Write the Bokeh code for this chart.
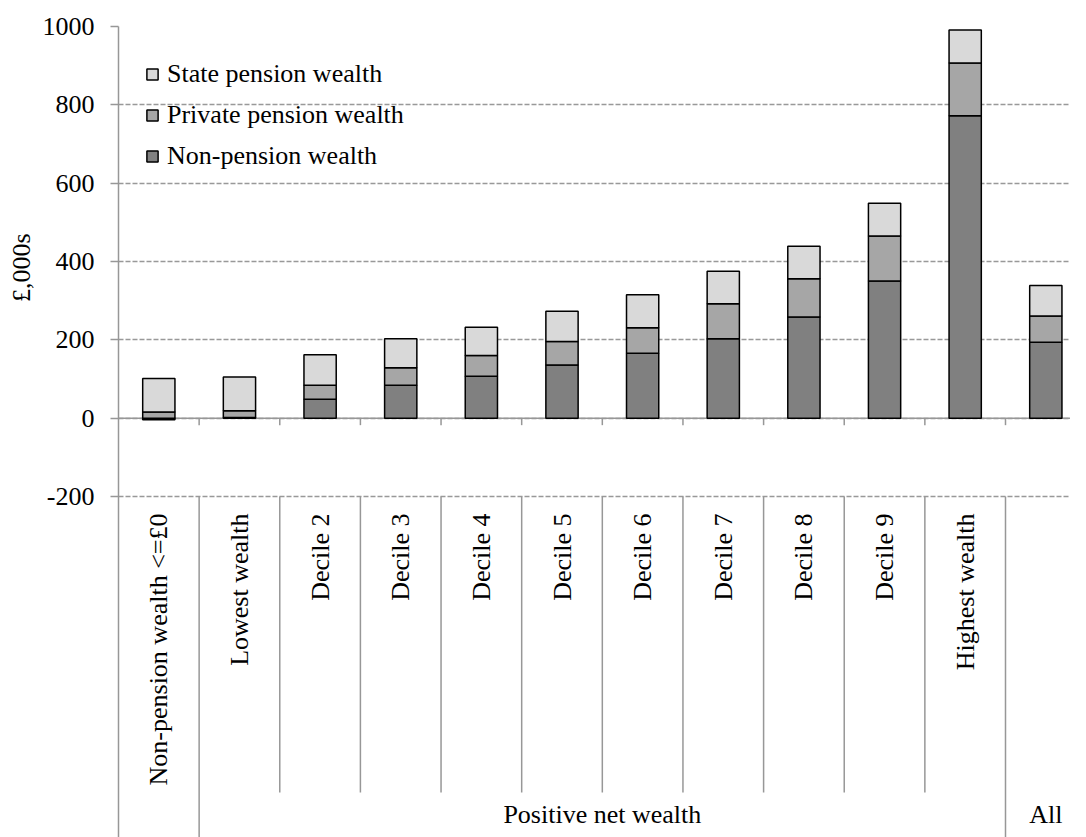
import numpy as np
from bokeh.plotting import figure
from bokeh.models import Range1d, FixedTicker, Legend, LegendItem, Title
from bokeh.core.properties import value
from bokeh.embed import file_html
from bokeh.resources import INLINE

# ---------------- data ----------------
categories = ["Non-pension wealth <=£0", "Lowest wealth", "Decile 2", "Decile 3",
              "Decile 4", "Decile 5", "Decile 6", "Decile 7", "Decile 8",
              "Decile 9", "Highest wealth", ""]
group_labels = ["", "Positive net wealth", "All"]
group_starts = [0, 1, 11]
group_ends = [1, 11, 12]
non_pension = [-4, 2, 48, 84, 107, 136, 166, 203, 258, 350, 772, 194]
private_pension = [16, 17, 36, 45, 53, 60, 65, 89, 98, 115, 135, 67]
state_pension = [85, 86, 78, 74, 72, 77, 84, 83, 83, 84, 84, 78]
y_ticks = [-200, 0, 200, 400, 600, 800, 1000]
y_tick_labels = ["-200", "0", "200", "400", "600", "800", "1000"]
y_label = "£,000s"

# ---------------- layout / style ----------------
FONT = "Liberation Serif"
FS = "26px"
GRAY = "#979797"
FIG_W, FIG_H = 1070, 837
BORDER_L, BORDER_T = 113, 26
PLOT_PX = 470.0                     # px between -200 and 1000
Y_MIN, Y_MAX = -200, 1000
ppu = PLOT_PX / (Y_MAX - Y_MIN)     # px per data unit
frame_h = FIG_H - BORDER_T
y_bottom = Y_MAX - frame_h / ppu
cat_px = 81.06
x_end = (FIG_W - BORDER_L) / cat_px

n = len(categories)
centers = np.arange(n) + 0.5
npw = np.array(non_pension, dtype=float)
ppw = np.array(private_pension, dtype=float)
spw = np.array(state_pension, dtype=float)
np_bottom = np.minimum(npw, 0)
np_top = np.maximum(npw, 0)
pp_bottom = np_top
pp_top = pp_bottom + ppw
sp_bottom = pp_top
sp_top = sp_bottom + spw

p = figure(width=FIG_W, height=FIG_H, output_backend="svg", toolbar_location=None,
           x_range=Range1d(0, x_end), y_range=Range1d(y_bottom, Y_MAX),
           x_axis_location=None, min_border_left=BORDER_L, min_border_right=0,
           min_border_top=BORDER_T, min_border_bottom=0)
p.outline_line_color = None
p.background_fill_color = "white"
p.border_fill_color = "white"
p.xgrid.visible = False

# y axis
yax = p.yaxis[0]
yax.ticker = FixedTicker(ticks=y_ticks)
yax.major_label_overrides = {t: s for t, s in zip(y_ticks, y_tick_labels)}
yax.major_label_text_font = FONT
yax.major_label_text_font_size = FS
yax.major_label_text_color = "black"
yax.major_label_standoff = 16
yax.major_tick_out = 8
yax.major_tick_in = 0
yax.minor_tick_line_color = None
yax.axis_line_color = GRAY
yax.axis_line_width = 1.5
yax.major_tick_line_color = GRAY
yax.major_tick_line_width = 1.5

# axis title, placed so that it sits beside the middle of the value range
p.add_layout(Title(text=y_label, align="right", offset=207,
                   standoff=8, text_font=FONT, text_font_size=FS,
                   text_font_style="normal", text_color="black"), "left")

p.ygrid.ticker = FixedTicker(ticks=y_ticks)
p.ygrid.grid_line_color = "#999999"
p.ygrid.grid_line_dash = "5 2"
p.ygrid.grid_line_width = 1.5

# zero axis line and its ticks at category boundaries
bounds_inner = np.arange(1, n)
p.segment(x0=[0], x1=[x_end], y0=[0], y1=[0], line_color=GRAY, line_width=1.5)
p.segment(x0=bounds_inner, x1=bounds_inner, y0=0, y1=-7 / ppu,
          line_color=GRAY, line_width=1.5)

# bars
bw = 0.4
r_np = p.vbar(x=centers, bottom=np_bottom, top=np_top, width=bw,
              fill_color="#808080", line_color="black", line_width=1.5)
r_pp = p.vbar(x=centers, bottom=pp_bottom, top=pp_top, width=bw,
              fill_color="#A6A6A6", line_color="black", line_width=1.5)
r_sp = p.vbar(x=centers, bottom=sp_bottom, top=sp_top, width=bw,
              fill_color="#D9D9D9", line_color="black", line_width=1.5)

# category label area
group_edges = sorted(set(group_starts + group_ends))
inner_edges = [b for b in range(1, n) if b not in group_edges]
outer_edges = [b for b in group_edges if 0 < b < n]
p.segment(x0=inner_edges, x1=inner_edges, y0=Y_MIN, y1=Y_MIN - 296 / ppu,
          line_color=GRAY, line_width=1.5)
p.segment(x0=outer_edges, x1=outer_edges, y0=Y_MIN, y1=y_bottom,
          line_color=GRAY, line_width=1.5)

p.text(x=centers, y=Y_MIN, text=categories, angle=np.pi / 2, y_offset=17,
       text_align="right", text_baseline="middle",
       text_font=value(FONT), text_font_size=FS, text_color="black")

gx = [(s + e) / 2 for s, e in zip(group_starts, group_ends)]
p.text(x=gx, y=Y_MIN, text=group_labels, y_offset=318,
       text_align="center", text_baseline="alphabetic",
       text_font=value(FONT), text_font_size=FS, text_color="black")

# legend
legend = Legend(items=[LegendItem(label="State pension wealth", renderers=[r_sp]),
                       LegendItem(label="Private pension wealth", renderers=[r_pp]),
                       LegendItem(label="Non-pension wealth", renderers=[r_np])],
                location=(27, 666), margin=0, padding=10, spacing=11,
                label_height=30, glyph_height=14, glyph_width=14, label_standoff=8,
                label_text_font=FONT, label_text_font_size=FS, label_text_color="black",
                border_line_color=None, background_fill_alpha=0)
p.add_layout(legend)

open("out.html", "w").write(file_html(p, INLINE))
